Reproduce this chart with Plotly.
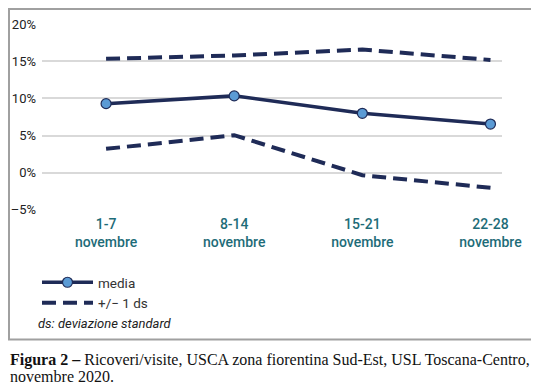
import plotly.graph_objects as go

categories = ["1-7<br>novembre", "8-14<br>novembre", "15-21<br>novembre", "22-28<br>novembre"]
media = [9.3, 10.35, 8.0, 6.55]
upper = [15.35, 15.8, 16.6, 15.2]
lower = [3.2, 5.05, -0.35, -2.05]
y_tickvals = [-5, 0, 5, 10, 15, 20]
y_ticktext = ["–5%", "0%", "5%", "10%", "15%", "20%"]

NAVY = "#1f2b57"
MARK = "#5b9bd5"
TEAL = "#1e6c78"
SANS = "Roboto, Liberation Sans, sans-serif"
SERIF = "Liberation Serif, DejaVu Serif, serif"

# page has an 8px body margin: figure origin sits at page (8, 8)
OFF = 8
W, H = 539 - OFF, 388 - OFF
L, R, T, B = 34, 37, 16, 178
pw, ph = W - L - R, H - T - B

def px(x):  # page x -> paper
    return (x - OFF - L) / pw

def py(y):  # page y -> paper
    return (H - B - (y - OFF)) / ph

xs = list(range(len(categories)))

fig = go.Figure()
fig.add_trace(go.Scatter(x=xs, y=media, name="media", mode="lines+markers",
                         line=dict(color=NAVY, width=3.5),
                         marker=dict(size=10, color=MARK, line=dict(color=NAVY, width=1.2))))
fig.add_trace(go.Scatter(x=xs, y=upper, name="+/− 1 ds", mode="lines", legendgroup="ds",
                         line=dict(color=NAVY, width=4, dash="14px,7px")))
fig.add_trace(go.Scatter(x=xs, y=lower, name="+/− 1 ds", mode="lines", legendgroup="ds",
                         showlegend=False,
                         line=dict(color=NAVY, width=4, dash="14px,7px")))

fig.update_layout(
    width=W, height=H,
    margin=dict(l=L, r=R, t=T, b=B, autoexpand=False),
    paper_bgcolor="white", plot_bgcolor="white",
    showlegend=True,
    legend=dict(x=px(37), y=py(267), xanchor="left", yanchor="top",
                font=dict(family=SANS, size=13.5, color="#333333"),
                tracegroupgap=0, itemwidth=51, bgcolor="rgba(0,0,0,0)"),
    xaxis=dict(range=[-0.5, 3.09], tickvals=xs, ticktext=categories,
               showgrid=False, zeroline=False, showline=False, automargin=False,
               tickfont=dict(family=SANS, size=14, color=TEAL, weight=500),
               ticks="", ticklabelstandoff=4),
    yaxis=dict(range=[-5.05, 20.05], tickvals=y_tickvals, ticktext=y_ticktext,
               showgrid=True, gridcolor="#d9d9d9", gridwidth=1.5, automargin=False,
               zeroline=False, showline=False, ticks="",
               tickfont=dict(family=SANS, size=13, color="#222222"),
               ticklabelstandoff=5),
    shapes=[dict(type="rect", xref="paper", yref="paper",
                 x0=px(OFF + 1), x1=px(536.5), y0=py(339.5), y1=py(OFF + 1),
                 line=dict(color="#a0a0a0", width=2), layer="below")],
    annotations=[
        dict(text="<i>ds: deviazione standard</i>", xref="paper", yref="paper",
             x=px(36), y=py(323), xanchor="left", yanchor="middle", showarrow=False,
             font=dict(family=SANS, size=13, color="#222222")),
        dict(text="<b>Figura 2 –</b> Ricoveri/visite, USCA zona fiorentina Sud-Est, USL Toscana-Centro,",
             xref="paper", yref="paper", x=px(OFF), y=py(360), xanchor="left", yanchor="middle",
             align="left", showarrow=False,
             font=dict(family=SERIF, size=16, color="#111111")),
        dict(text="novembre 2020.",
             xref="paper", yref="paper", x=px(OFF), y=py(376), xanchor="left", yanchor="middle",
             align="left", showarrow=False,
             font=dict(family=SERIF, size=16, color="#111111")),
    ],
)

fig.write_html("out.html")
